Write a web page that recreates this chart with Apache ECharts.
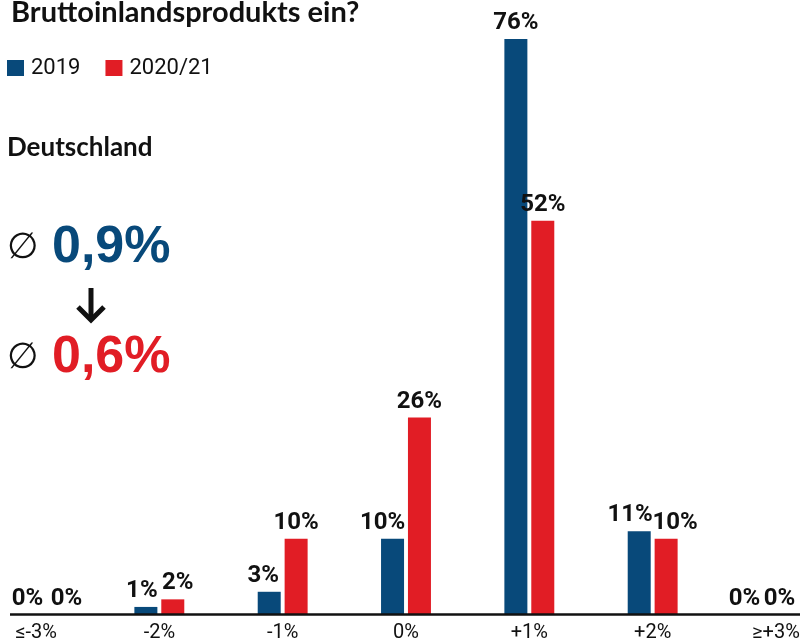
<!DOCTYPE html>
<html>
<head>
<meta charset="utf-8">
<script src="https://cdn.jsdelivr.net/npm/echarts@6/dist/echarts.min.js"></script>
<style>
html,body{margin:0;padding:0;background:#fff;}
#chart{width:800px;height:638px;}
</style>
</head>
<body>
<div id="chart"></div>
<script>
// ---- data ----
const categories = ['≤-3%', '-2%', '-1%', '0%', '+1%', '+2%', '≥+3%'];
const seriesNames = ['2019', '2020/21'];
const values2019 = [0, 1, 3, 10, 76, 11, 0];
const values2020 = [0, 2, 10, 26, 52, 10, 0];
const averages = [0.9, 0.6];
const titleText = 'Bruttoinlandsprodukts ein?';
const regionText = 'Deutschland';

// ---- style ----
const BLUE = '#08497a';
const RED = '#e11d25';
const INK = '#111111';
// horizontal nudges of the value labels (px), so neighbouring labels do not collide
const labelShift2019 = [5, -4, -6, -10, 0, -9, -18];
const labelShift2020 = [17, 5, 0, 0, 0, 9, -10];

const fmtAvg = v => v.toFixed(1).replace('.', ',') + '%';

function buildData(vals, shifts) {
  return vals.map((v, i) => shifts[i] ? {value: v, label: {offset: [shifts[i], 0]}} : v);
}

const labelStyle = {
  show: true,
  position: 'top',
  distance: 4,
  formatter: p => p.value + '%',
  fontFamily: 'Roboto',
  fontWeight: 'bold',
  fontSize: 24,
  color: INK
};

const chart = echarts.init(document.getElementById('chart'), null, {renderer: 'canvas'});

const option = {
  animation: false,
  backgroundColor: '#ffffff',
  title: {
    text: titleText,
    left: 6,
    top: -7,
    textStyle: {fontFamily: 'Lato', fontWeight: 'bold', fontSize: 29, color: INK}
  },
  legend: {
    left: 2,
    top: 52,
    itemWidth: 17,
    itemHeight: 16,
    itemGap: 25,
    icon: 'rect',
    data: seriesNames,
    textStyle: {fontFamily: 'Roboto', fontSize: 22, color: INK, padding: [0, 0, 0, 2]}
  },
  grid: {left: 36, right: 24, top: 39, bottom: 23.5, containLabel: false, outerBoundsMode: 'none'},
  xAxis: {
    type: 'category',
    data: categories,
    boundaryGap: false,
    axisLine: {show: false},
    axisTick: {show: false},
    splitLine: {show: false},
    axisLabel: {interval: 0, margin: 8, fontFamily: 'Roboto', fontSize: 20, color: INK}
  },
  yAxis: {
    type: 'value',
    min: 0,
    max: 76,
    show: false,
    splitLine: {show: false}
  },
  series: [
    {
      name: seriesNames[0],
      type: 'bar',
      barWidth: 23,
      barGap: '17%',
      itemStyle: {color: BLUE},
      label: labelStyle,
      data: buildData(values2019, labelShift2019)
    },
    {
      name: seriesNames[1],
      type: 'bar',
      barWidth: 23,
      barGap: '17%',
      itemStyle: {color: RED},
      label: labelStyle,
      data: buildData(values2020, labelShift2020)
    }
  ],
  graphic: [
    {type: 'text', id: 'region', left: 7, top: 135,
      style: {text: regionText, font: 'bold 26px Lato', fill: INK}},
    {type: 'text', id: 'dia1', left: 7, top: 231,
      style: {text: '∅', font: '36px "DejaVu Sans"', fill: INK}},
    {type: 'text', id: 'avg1', left: 52, top: 222,
      style: {text: fmtAvg(averages[0]), font: 'bold 52px "Liberation Sans"', fill: BLUE}},
    {type: 'group', id: 'arrow', children: [
      {type: 'line', shape: {x1: 91, y1: 288, x2: 91, y2: 320},
        style: {stroke: INK, lineWidth: 5}},
      {type: 'polyline', shape: {points: [[78, 307], [91, 320], [104, 307]]},
        style: {stroke: INK, lineWidth: 5, fill: null, lineJoin: 'miter'}}
    ]},
    {type: 'text', id: 'dia2', left: 7, top: 341,
      style: {text: '∅', font: '36px "DejaVu Sans"', fill: INK}},
    {type: 'text', id: 'avg2', left: 52, top: 332,
      style: {text: fmtAvg(averages[1]), font: 'bold 52px "Liberation Sans"', fill: RED}}
  ]
};

chart.setOption(option);

// baseline drawn through the library's y scale, spanning the full width like the original
const y0 = chart.convertToPixel({yAxisIndex: 0}, 0);
chart.setOption({
  graphic: [{
    type: 'line', id: 'baseline', z: 10,
    shape: {x1: 10, y1: y0, x2: 800, y2: y0},
    style: {stroke: INK, lineWidth: 2.5}
  }]
});
</script>
</body>
</html>
